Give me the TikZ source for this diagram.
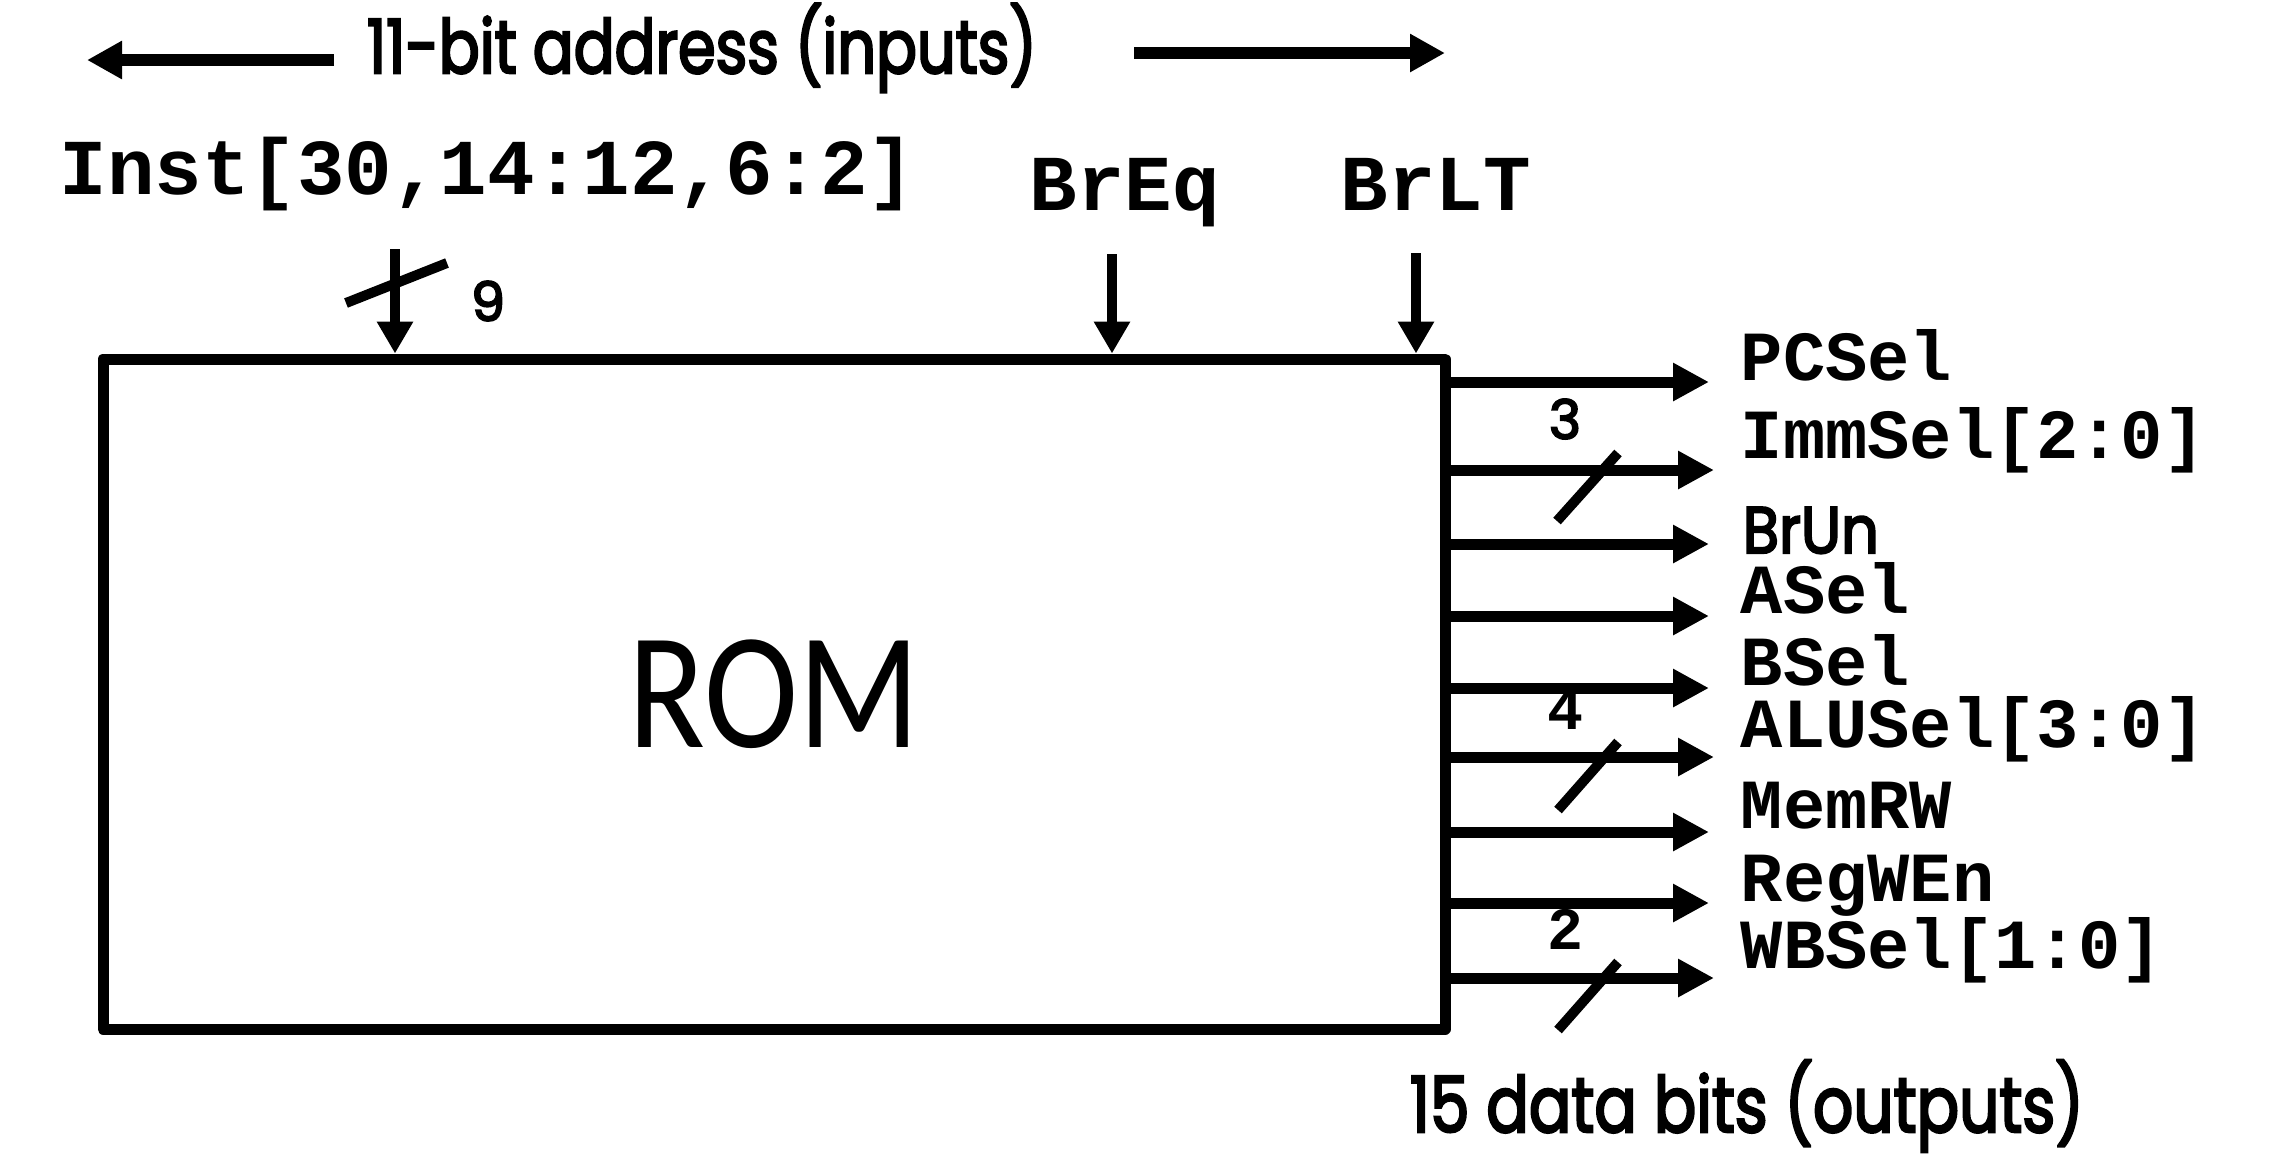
\documentclass[tikz,border=0pt]{standalone}
\usepackage{fontspec}
\setmainfont{Poppins}
\newfontfamily\gsans{Poppins}[FakeBold=3.5]
\setmonofont{Liberation Mono}
\newfontfamily\romfont{Carlito}
\usetikzlibrary{arrows.meta}
\begin{document}
\begin{tikzpicture}[x=0.25pt,y=-0.25pt,
  sig/.style={line width=2.75pt,-{Triangle[length=9pt,width=9pt]}},
  insig/.style={line width=2.5pt,-{Triangle[length=8pt,width=8.6pt]}},
  tarr/.style={line width=3pt,-{Triangle[length=8.75pt,width=9pt]}},
  bus/.style={line width=2.5pt},
  toplbl/.style={anchor=base west,inner sep=0pt,font=\ttfamily\bfseries\fontsize{19.8}{20}\selectfont},
  outlbl/.style={anchor=base west,inner sep=0pt,font=\ttfamily\bfseries\fontsize{17.6}{18}\selectfont},
  sansnum/.style={inner sep=0pt,font=\gsans\fontsize{13.5}{14}\selectfont},
  mononum/.style={inner sep=0pt,font=\ttfamily\bfseries\fontsize{15}{15}\selectfont},
  plain/.style={anchor=base west,inner sep=0pt}]
\useasboundingbox (0,0) rectangle (2271,1171);
\fill[white] (0,0) rectangle (2271,1171);

% ROM box
\node[draw,line width=2.75pt,line join=round,minimum width=335.5pt,minimum height=167.5pt,inner sep=0pt]
      (rom) at (774,694) {\resizebox{72.75pt}{\height}{\romfont\fontsize{41.5}{42}\selectfont ROM}};

% title
\node[plain] (title) at (366,73) {\resizebox{167.5pt}{\height}{\gsans\fontsize{18.6}{20}\selectfont 11-bit address (inputs)}};
\coordinate (tlA) at (334,60); \coordinate (tlB) at (87,60);
\coordinate (trA) at (1134,53); \coordinate (trB) at (1445,53);
\draw[tarr] (tlA) -- (tlB);
\draw[tarr] (trA) -- (trB);

% top labels
\node[toplbl] (inst) at (59,194) {Inst[30,14:12,6:2]};
\node[toplbl] (breq) at (1029,210) {BrEq};
\node[toplbl] (brlt) at (1340,210) {BrLT};

\coordinate (inTop) at (395,249);
\coordinate (eqTop) at (1112,254);
\coordinate (ltTop) at (1416,253);
\draw[insig] (inTop) -- (inTop |- rom.north);
\draw[insig] (eqTop) -- (eqTop |- rom.north);
\draw[insig] (ltTop) -- (ltTop |- rom.north);
\draw[bus] (346,303) -- (447,263);
\node[sansnum] (n9) at (488,301) {9};

% outputs
\coordinate (o1) at (1709,382);
\coordinate (o2) at (1714,470);
\coordinate (o3) at (1709,544);
\coordinate (o4) at (1709,616);
\coordinate (o5) at (1709,688);
\coordinate (o6) at (1714,757);
\coordinate (o7) at (1709,832);
\coordinate (o8) at (1709,903);
\coordinate (o9) at (1714,978);
\foreach \o in {o1,o2,o3,o4,o5,o6,o7,o8,o9}{
  \draw[sig] (\o -| rom.east) -- (\o);
}
\draw[bus] (1557,521) -- (1618,453);
\draw[bus] (1558,810) -- (1618,742);
\draw[bus] (1558,1030) -- (1618,962);
\node[sansnum] (n3) at (1565,419) {3};
\node[mononum] (n4) at (1565,710) {4};
\node[mononum] (n2) at (1565,929) {2};

\node[outlbl] (l1) at (1740,380) {PCSel};
\node[outlbl] (l2) at (1740,458) {ImmSel[2:0]};
\node[plain] (l3) at (1742,553) {\resizebox{34pt}{\height}{\gsans\fontsize{16.4}{16}\selectfont BrUn}};
\node[outlbl] (l4) at (1740,613) {ASel};
\node[outlbl] (l5) at (1740,685) {BSel};
\node[outlbl] (l6) at (1740,747) {ALUSel[3:0]};
\node[outlbl] (l7) at (1740,828) {MemRW};
\node[outlbl] (l8) at (1740,901) {RegWEn};
\node[outlbl] (l9) at (1740,968) {WBSel[1:0]};

\node[plain] (bits) at (1409,1132) {\resizebox{168.5pt}{\height}{\gsans\fontsize{19.3}{20}\selectfont 15 data bits (outputs)}};
\end{tikzpicture}
\end{document}
